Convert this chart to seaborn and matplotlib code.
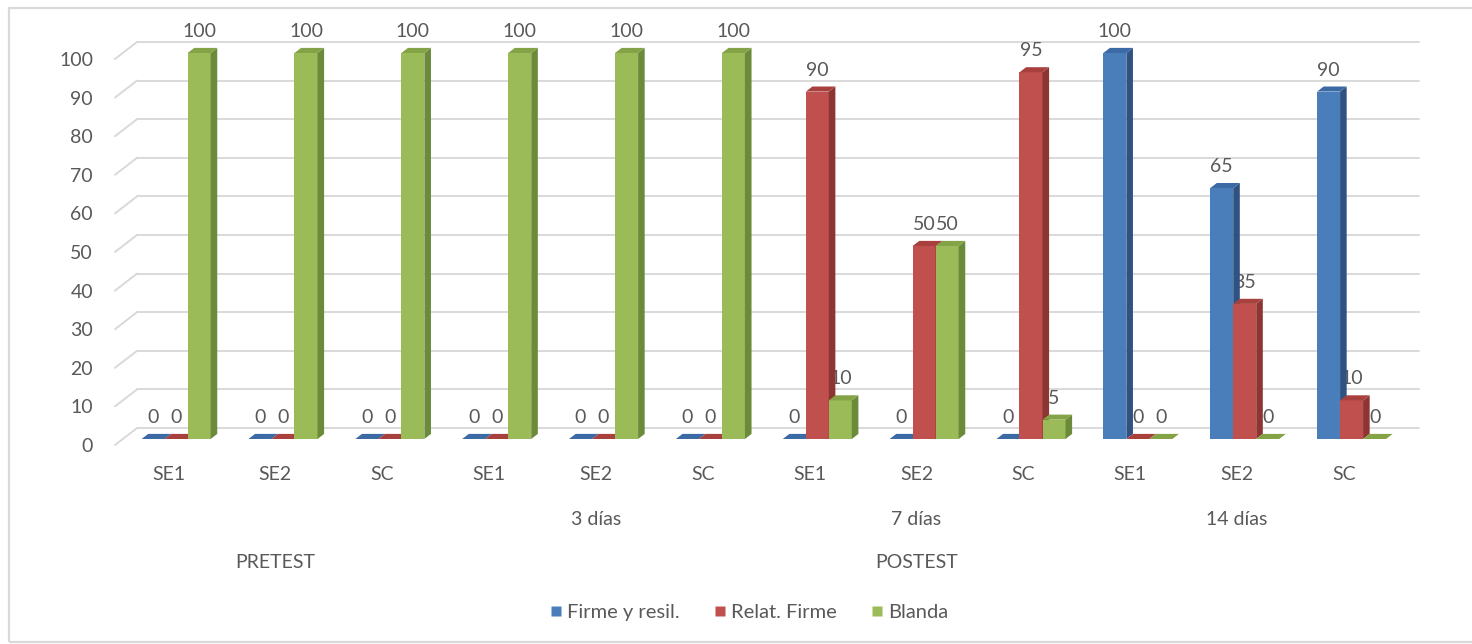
import numpy as np
import pandas as pd
import seaborn as sns
import matplotlib.pyplot as plt
from matplotlib.patches import Polygon, Rectangle
from matplotlib.lines import Line2D

# ---- data -------------------------------------------------------------
grupos = ["SE1", "SE2", "SC"] * 4
periodos = ["", "3 días", "7 días", "14 días"]
fases = ["PRETEST", "POSTEST"]
series = ["Firme y resil.", "Relat. Firme", "Blanda"]
firme = [0, 0, 0, 0, 0, 0, 0, 0, 0, 100, 65, 90]
relat = [0, 0, 0, 0, 0, 0, 90, 50, 95, 0, 35, 10]
blanda = [100, 100, 100, 100, 100, 100, 10, 50, 5, 0, 0, 0]
yticks = list(range(0, 101, 10))

# ---- styling ------------------------------------------------------------
sns.set_style("white")
plt.rcParams["font.family"] = ["Lato", "DejaVu Sans"]
TXT = "#595959"
GRID = "#D9D9D9"
front = ["#4A7EBB", "#C0504D", "#9BBB59"]
side = ["#2F5283", "#8C3533", "#6B8A3A"]
top = ["#3C6AA4", "#A8413E", "#84A346"]

W, H = 1472, 644
fig = plt.figure(figsize=(W / 100, H / 100), dpi=100)
# plot area in pixels (front plane of the bars)
L, R, T, B = 122.7, 1405.0, 53.0, 439.0
ax = fig.add_axes([L / W, 1 - B / H, (R - L) / W, (B - T) / H])

px_x = (R - L) / 12.0   # pixels per category
px_y = (B - T) / 100.0  # pixels per unit

# depth vectors (pixels): bar depth, back wall, front edge
bar_dx, bar_dy = 6.6 / px_x, 5.1 / px_y
back_dx, back_dy = 14.3 / px_x, 11.0 / px_y
front_dx, front_dy = -7.7 / px_x, -6.0 / px_y

# ---- bars ---------------------------------------------------------------
keys = []
for i, g in enumerate(grupos):
    per = periodos[i // 3]
    fase = fases[0] if i < 3 else fases[1]
    keys.append(f"{fase}-{per}-{g}-{i}")

df = pd.DataFrame({
    "clave": keys * 3,
    "serie": np.repeat(series, len(keys)),
    "valor": firme + relat + blanda,
})

sns.barplot(data=df, x="clave", y="valor", hue="serie", order=keys,
            hue_order=series, palette=front, saturation=1, width=0.646,
            errorbar=None, linewidth=0, legend=False, ax=ax)
ax.set_xlim(-0.5, 11.5)
ax.set_ylim(0, 100)
ax.set_axis_off()

for bar in list(ax.patches):
    x, w, h = bar.get_x(), bar.get_width(), bar.get_height()
    cx = x + w / 2
    cat = int(round(cx))
    k = int(round((cx - cat) / w)) + 1
    z = 3 + (cat * 3 + k) * 0.01
    bar.set_zorder(z)
    bar.set_clip_on(False)
    ax.add_patch(Polygon([(x + w, 0), (x + w, h), (x + w + bar_dx, h + bar_dy),
                          (x + w + bar_dx, bar_dy)], closed=True,
                         facecolor=side[k], edgecolor="none", zorder=z,
                         clip_on=False))
    ax.add_patch(Polygon([(x, h), (x + w, h), (x + w + bar_dx, h + bar_dy),
                          (x + bar_dx, h + bar_dy)], closed=True,
                         facecolor=top[k], edgecolor="none", zorder=z,
                         clip_on=False))
    ax.annotate(f"{h:g}", (cx, h), xytext=(0, 16), textcoords="offset pixels",
                ha="center", va="baseline", fontsize=14, color=TXT,
                zorder=2, annotation_clip=False)

# ---- back wall gridlines, slanted ticks and value axis labels ----------
for v in yticks:
    ax.plot([-0.5 + back_dx, 11.5 + back_dx], [v + back_dy] * 2,
            color=GRID, lw=1.4, zorder=1, clip_on=False)
    ax.plot([-0.5 + front_dx, -0.5 + back_dx], [v + front_dy, v + back_dy],
            color=GRID, lw=1.4, zorder=1, clip_on=False)
    ax.annotate(str(v), (-0.5, v), xytext=(-29.7, -13),
                textcoords="offset pixels", ha="right", va="baseline",
                fontsize=14, color=TXT, annotation_clip=False)

# ---- multi-level category axis -----------------------------------------
for i, g in enumerate(grupos):
    ax.annotate(g, (i, 0), xytext=(-7.7, -41), textcoords="offset pixels",
                ha="center", va="baseline", fontsize=14, color=TXT,
                annotation_clip=False)
for j, per in enumerate(periodos):
    if per:
        ax.annotate(per, (3 * j + 1, 0), xytext=(-7.7, -86),
                    textcoords="offset pixels", ha="center", va="baseline",
                    fontsize=14, color=TXT, annotation_clip=False)
fase_centros = [1, 7]
for f, c in zip(fases, fase_centros):
    ax.annotate(f, (c, 0), xytext=(-7.7, -129), textcoords="offset pixels",
                ha="center", va="baseline", fontsize=14, color=TXT,
                annotation_clip=False)

# ---- legend -------------------------------------------------------------
handles = [Line2D([], [], marker="s", linestyle="none", markersize=7.5,
                  markerfacecolor=c, markeredgecolor="none") for c in front]
fig.legend(handles, series, loc="center", bbox_to_anchor=(749 / W, 1 - 612 / H),
           ncol=3, frameon=False, fontsize=14.5, handlelength=0.6,
           handletextpad=0.25, columnspacing=1.7, labelcolor=TXT)

# chart area border
fig.patches.append(Rectangle((9 / W, 1 - 642 / H), 1.2, (642 - 8) / H,
                             transform=fig.transFigure, fill=False,
                             edgecolor=GRID, lw=1.6))

fig.savefig("out.png", dpi=100)
